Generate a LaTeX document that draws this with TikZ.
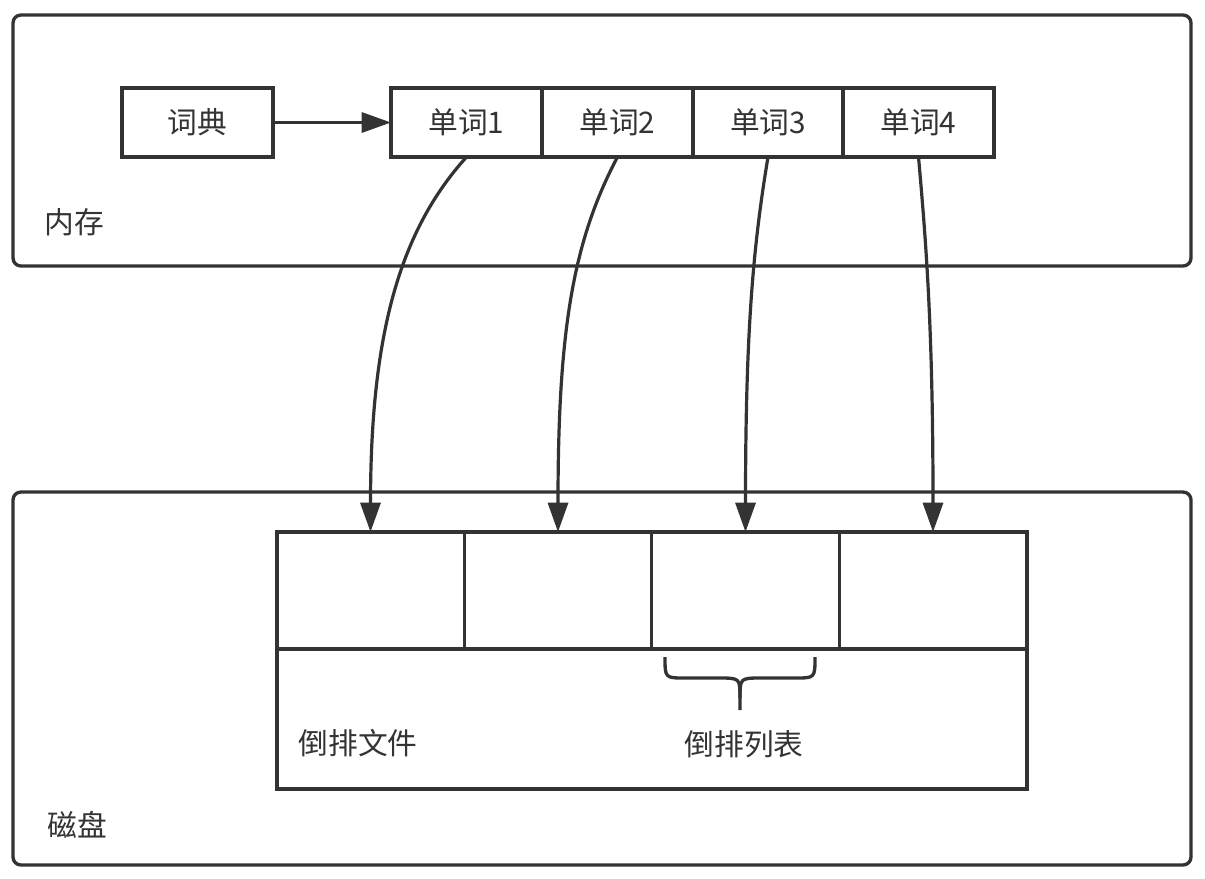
\documentclass[tikz,border=0pt]{standalone}
\usepackage{fontspec}
\setmainfont{Noto Sans CJK SC}
\usetikzlibrary{arrows.meta}
\definecolor{ink}{HTML}{333333}
\begin{document}
\begin{tikzpicture}[x=0.75pt,y=-0.75pt,
  every node/.style={text=ink,font=\fontsize{22.3}{27}\selectfont},
  frame/.style={draw=ink,line width=2.5pt,rounded corners=6pt},
  box/.style={draw=ink,line width=2.5pt,inner sep=0pt,outer sep=0pt,minimum width=113.25pt,minimum height=51.75pt},
  cellbox/.style={draw=ink,line width=2.5pt,inner sep=0pt,outer sep=0pt,minimum width=140.6pt,minimum height=87.75pt},
  link/.style={draw=ink,line width=2.4pt,-{Triangle[length=22pt,width=15pt]}},
  lbl/.style={inner sep=0pt}]
\useasboundingbox (0,0) rectangle (1205,878);
\fill[white] (0,0) rectangle (1205,878);
% containers
\draw[frame] (13,15) rectangle (1191,266);
\draw[frame] (13,492) rectangle (1191,865);
\node[lbl] (mem) at (74,222) {内存};
\node[lbl] (disk) at (77,825) {磁盘};
% memory
\node[box] (dict) at (197.5,122.5) {词典};
\node[box] (w1) at (466.5,122.5) {单词1};
\node[box] (w2) at (617.5,122.5) {单词2};
\node[box] (w3) at (768,122.5) {单词3};
\node[box] (w4) at (918.5,122.5) {单词4};
\draw[link] (dict.east) -- (w1.west);
% inverted file
\draw[draw=ink,line width=2.5pt] (277,532) rectangle (1027,789);
\node[cellbox] (c1) at (370.5,590.5) {};
\node[cellbox] (c2) at (558,590.5) {};
\node[cellbox] (c3) at (745.5,590.5) {};
\node[cellbox] (c4) at (933,590.5) {};
\node[lbl] (ifile) at (358,743) {倒排文件};
\node[lbl] (ilist) at (744,744) {倒排列表};
% brace
\draw[draw=ink,line width=2.5pt,line join=round]
  (665,657) .. controls (665,678) .. (685,678) -- (718,678)
  .. controls (740,678) .. (740,698) -- (740,710);
\draw[draw=ink,line width=2.5pt,line join=round]
  (815,657) .. controls (815,678) .. (795,678) -- (762,678)
  .. controls (740,678) .. (740,698);
% links
\draw[link] (w1.south) .. controls +(-66,73) and +(0,-200) .. (c1.north);
\draw[link] (w2.south) .. controls +(-45,85) and +(0,-200) .. (c2.north);
\draw[link] (w3.south) .. controls +(-15,90) and +(0,-200) .. (c3.north);
\draw[link] (w4.south) .. controls +(8,90) and +(0,-200) .. (c4.north);
\end{tikzpicture}
\end{document}
